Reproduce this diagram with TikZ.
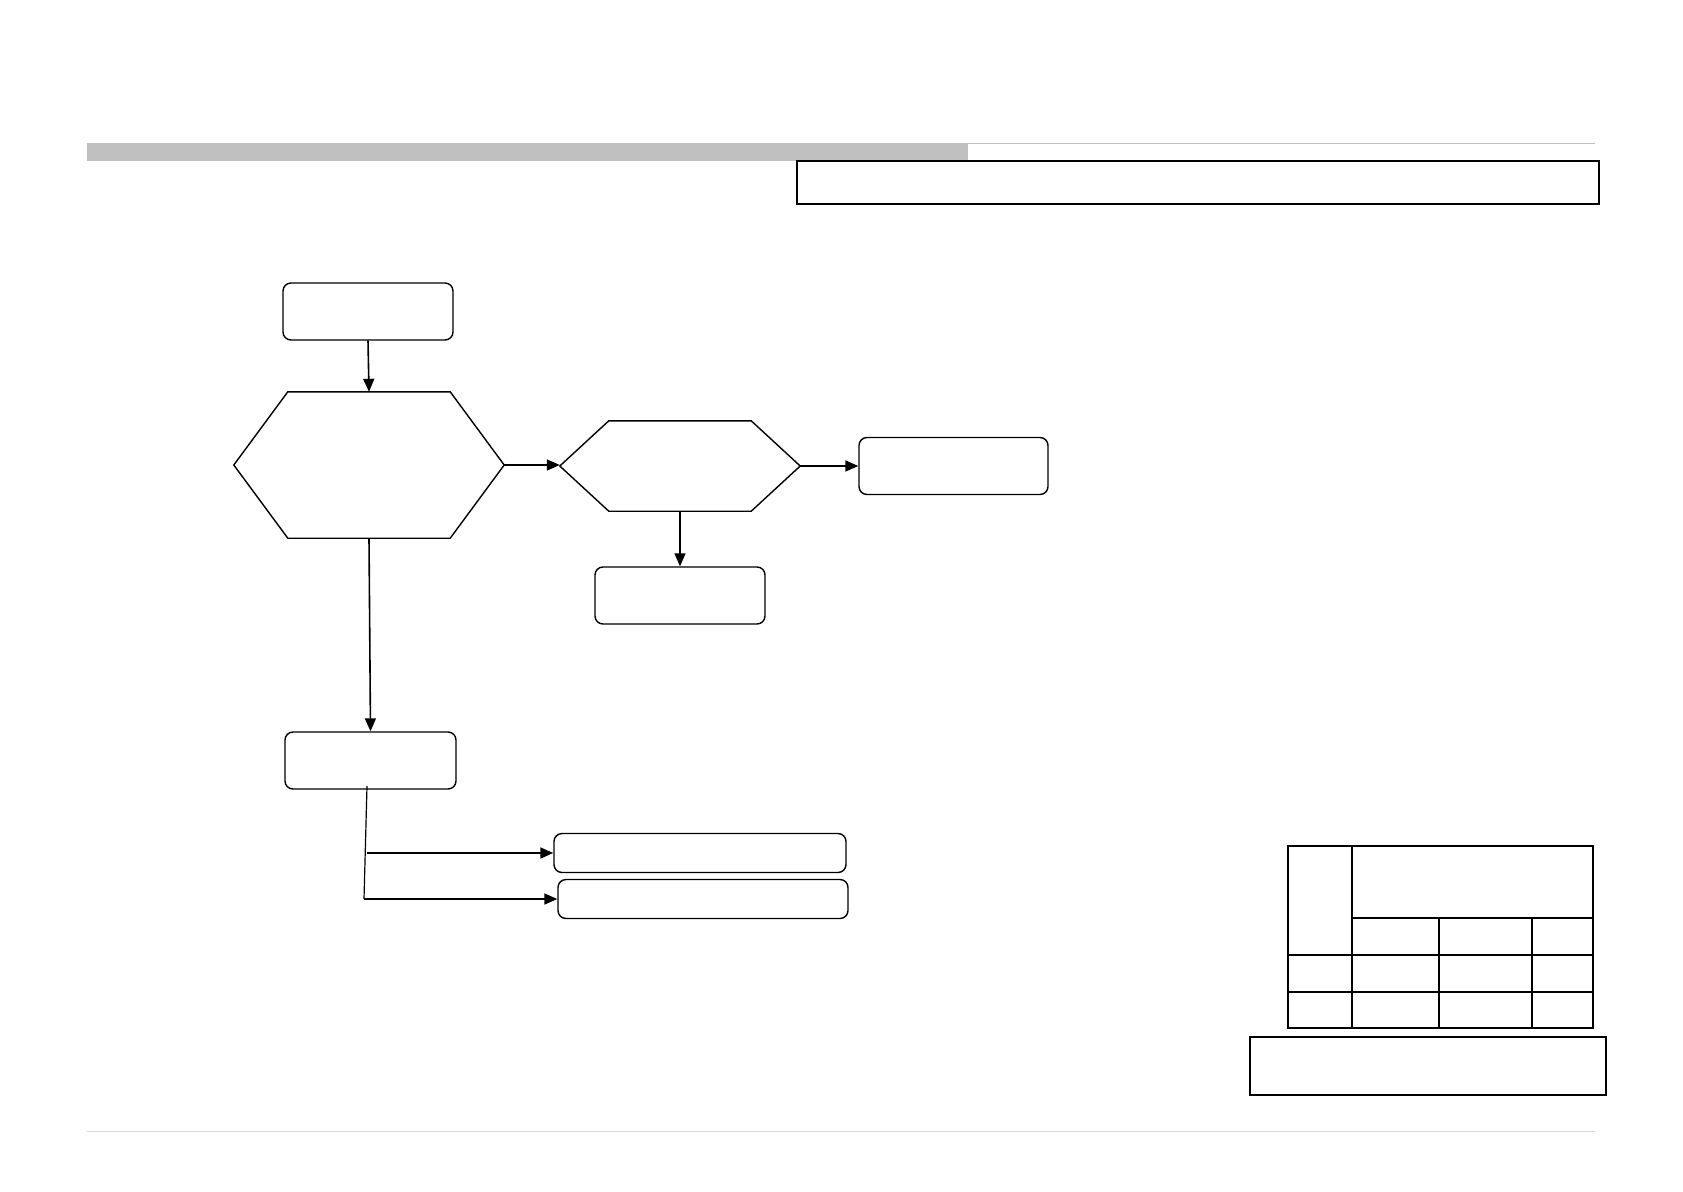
\documentclass[tikz,border=0pt]{standalone}
\usetikzlibrary{arrows.meta,calc}
\definecolor{bargray}{HTML}{C0C0C0}
\begin{document}
\begin{tikzpicture}[x=1pt,y=-1pt,
  box/.style={draw,line width=1.4pt,rounded corners=8pt,inner sep=0pt},
  plainbox/.style={draw,line width=1.2pt,inner sep=0pt},
  ghost/.style={inner sep=0pt},
  hexline/.style={line width=1.4pt,line join=miter},
  arr/.style={line width=1.6pt,-{Triangle[length=13pt,width=11pt]}},
  tline/.style={line width=2.6pt}]
\useasboundingbox[fill=white] (0,0) rectangle (1683,1191);
% header
\fill[bargray] (87,143) rectangle (968,161);
\draw[bargray,line width=1.8pt] (968,143.5) -- (1595,143.5);
\draw[bargray!60,line width=1pt] (87,1131) -- (1595,1131);
\node[plainbox,minimum width=802pt,minimum height=43pt] (hdr) at (1198,182.5) {};
% boxes
\node[box,minimum width=170pt,minimum height=57pt] (A) at (368,311.5) {};
\node[box,minimum width=189pt,minimum height=57pt] (B) at (953.5,466) {};
\node[box,minimum width=170pt,minimum height=57pt] (C) at (680,595.5) {};
\node[box,minimum width=171pt,minimum height=57pt] (D) at (370.5,760.5) {};
\node[box,minimum width=292pt,minimum height=39pt] (E) at (700,853) {};
\node[box,minimum width=290pt,minimum height=39pt] (F) at (703,899) {};
% hexagons
\node[ghost,minimum width=270pt,minimum height=146pt] (H1) at (369,465) {};
\draw[hexline] (H1.west) -- ($(H1.north west)+(54pt,0pt)$) -- ($(H1.north east)+(-54pt,0pt)$)
  -- (H1.east) -- ($(H1.south east)+(-54pt,0pt)$) -- ($(H1.south west)+(54pt,0pt)$) -- cycle;
\node[ghost,minimum width=240pt,minimum height=90pt] (H2) at (680,466) {};
\draw[hexline] (H2.west) -- ($(H2.north west)+(49pt,0pt)$) -- ($(H2.north east)+(-49pt,0pt)$)
  -- (H2.east) -- ($(H2.south east)+(-49pt,0pt)$) -- ($(H2.south west)+(49pt,0pt)$) -- cycle;
% connectors
\draw[arr] (A.south) -- (H1.north);
\draw[arr] (H1.east) -- (H1.east -| H2.west);
\draw[arr] (H2.east) -- (B.west);
\draw[arr] (H2.south) -- (C.north);
\draw[arr] (H1.south) -- (D.north);
\coordinate (d1) at (367,786);
\coordinate (d2) at (367,853);
\coordinate (d3) at (364,899);
\draw[line width=1.2pt] (d1) -- (d3);
\draw[arr] (d2) -- (d2 -| E.west);
\draw[arr] (d3) -- (d3 -| F.west);
% table
\draw[tline] (1288,846) rectangle (1593,1028);
\draw[tline] (1352,846) -- (1352,1028);
\draw[tline] (1352,918) -- (1593,918);
\draw[tline] (1288,955) -- (1593,955);
\draw[tline] (1288,992) -- (1593,992);
\draw[tline] (1439,918) -- (1439,1028);
\draw[tline] (1532,918) -- (1532,1028);
\node[plainbox,minimum width=356pt,minimum height=58pt] (note) at (1428,1066) {};
\end{tikzpicture}
\end{document}
